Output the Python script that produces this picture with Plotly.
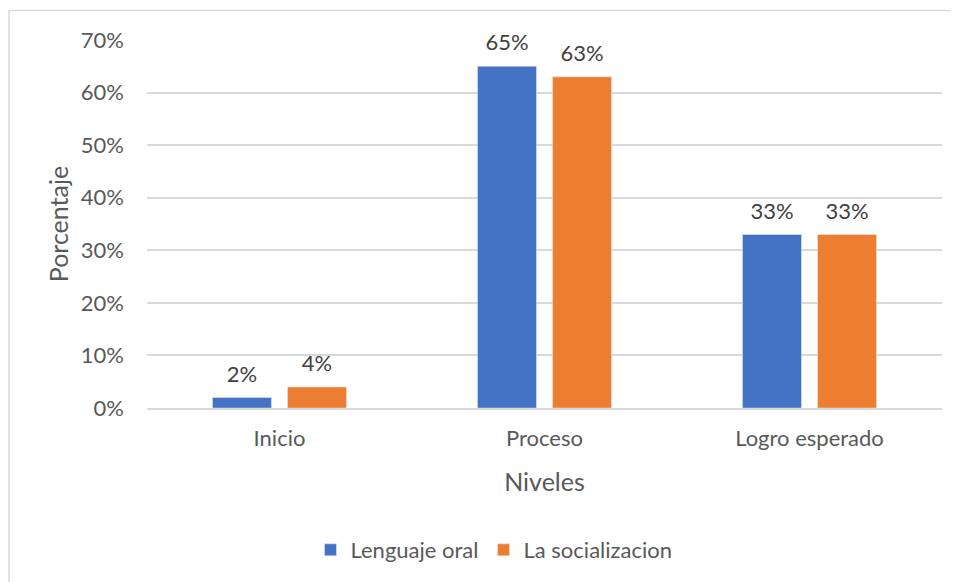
import plotly.graph_objects as go

categories = ["Inicio", "Proceso", "Logro esperado"]
lenguaje_oral = [0.02, 0.65, 0.33]
socializacion = [0.04, 0.63, 0.33]
series_names = ["Lenguaje oral", "La socializacion"]
y_ticks = [0, 0.1, 0.2, 0.3, 0.4, 0.5, 0.6, 0.7]

FONT = "Lato"
GRAY = "#595959"
BODY = 8  # default page body margin

fig = go.Figure()
series = [(series_names[0], lenguaje_oral, "#4472C4", "g1"),
          (series_names[1], socializacion, "#ED7D31", "g2")]
for name, vals, color, grp in series:
    fig.add_trace(go.Bar(
        x=categories, y=vals, name=name, marker_color=color,
        offsetgroup=grp, alignmentgroup="a",
    ))
for name, vals, color, grp in series:
    fig.add_trace(go.Scatter(
        x=categories, y=vals, mode="markers+text", showlegend=False,
        offsetgroup=grp, alignmentgroup="a",
        marker=dict(size=15, opacity=0),
        text=[f"{v*100:.0f}%" for v in vals], textposition="top center",
        textfont=dict(size=22, color="#404040", family=FONT),
        cliponaxis=False, hoverinfo="skip",
    ))

W, H = 959 - BODY, 582 - BODY
# plot area in page coords: x 147..942, y 40..409
L, R, T, B = 147 - BODY, 942 - BODY, 40 - BODY, 409 - BODY
pw, ph = R - L, B - T
def px(x):
    return (x - BODY - L) / pw
def py(y):
    return (B - (y - BODY)) / ph

fig.add_shape(type="path", xref="paper", yref="paper",
              path=f"M {px(9)} {py(600)} L {px(9)} {py(10.5)} L {px(980)} {py(10.5)}",
              line=dict(color="#D9D9D9", width=1.5))

fig.update_layout(
    width=W, height=H,
    margin=dict(l=L, r=W - R, t=T, b=H - B),
    paper_bgcolor="white", plot_bgcolor="white",
    barmode="group", bargap=0.434, bargroupgap=0.213,
    scattermode="group", scattergap=0.434,
    font=dict(family=FONT, color=GRAY, size=22),
    showlegend=True,
    legend=dict(orientation="h", x=px(494), xanchor="center", y=py(550), yanchor="middle",
                font=dict(size=22, color=GRAY), itemwidth=30, traceorder="normal"),
    xaxis=dict(showgrid=False, showline=True, linecolor="#D9D9D9", linewidth=1.5,
               ticks="", ticklabelstandoff=10, tickfont=dict(size=22, color=GRAY),
               title=dict(text="Niveles", font=dict(size=25, color=GRAY), standoff=23)),
    yaxis=dict(range=[0, 0.7], tickvals=y_ticks, tickformat=".0%",
               showgrid=True, gridcolor="#D9D9D9", gridwidth=1.5, zeroline=False,
               ticks="", ticklabelstandoff=22, tickfont=dict(size=22, color=GRAY),
               title=dict(text="Porcentaje", font=dict(size=25, color=GRAY), standoff=5)),
)

fig.write_html("out.html")
